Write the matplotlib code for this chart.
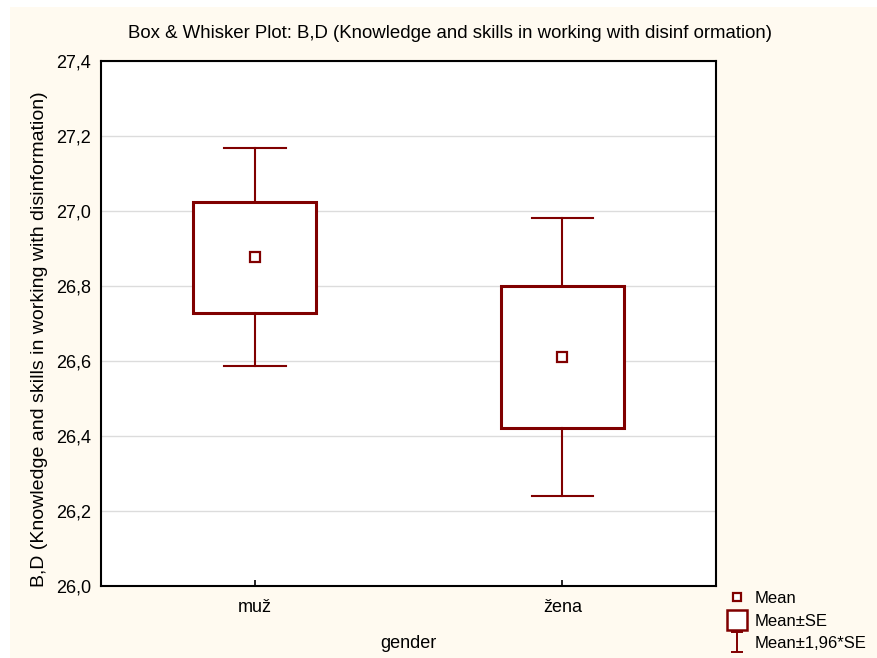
import matplotlib.pyplot as plt
import numpy as np
from matplotlib.lines import Line2D
from matplotlib.path import Path
from matplotlib.patches import Rectangle

plt.rcParams['font.family'] = ['Liberation Sans', 'DejaVu Sans']

# valores
grupos = ['muž', 'žena']
media = [26.877, 26.611]
erro_padrao = [0.148, 0.189]
fator_ic = 1.96

cor = '#800000'
fundo = '#fffaf0'

fig = plt.figure(figsize=(8.77, 6.58), dpi=100)
fig.patch.set_facecolor('white')
fig.patches.append(Rectangle((10 / 877, 0), 1, 1 - 7 / 658, transform=fig.transFigure,
                             facecolor=fundo, edgecolor='none', zorder=-10))

ax = fig.add_axes([101 / 877, 1 - 586 / 658, 615 / 877, 525 / 658])
ax.set_facecolor('white')

x = np.arange(1, len(grupos) + 1)
largura_caixa = 0.4
largura_barra = 0.2

for xi, m, se in zip(x, media, erro_padrao):
    baixo, cima = m - se, m + se
    w_baixo, w_cima = m - fator_ic * se, m + fator_ic * se
    ax.add_patch(Rectangle((xi - largura_caixa / 2, baixo), largura_caixa, cima - baixo,
                           facecolor='white', edgecolor=cor, linewidth=2.2, zorder=3))
    ax.plot([xi, xi], [cima, w_cima], color=cor, lw=1.5, zorder=3)
    ax.plot([xi, xi], [w_baixo, baixo], color=cor, lw=1.5, zorder=3)
    ax.plot([xi - largura_barra / 2, xi + largura_barra / 2], [w_cima, w_cima], color=cor, lw=1.5, zorder=3)
    ax.plot([xi - largura_barra / 2, xi + largura_barra / 2], [w_baixo, w_baixo], color=cor, lw=1.5, zorder=3)
    ax.plot(xi, m, marker='s', ms=6.5, mfc='white', mec=cor, mew=1.6, zorder=4)

ax.set_xlim(0.5, 2.5)
ax.set_ylim(26.0, 27.4)
ax.set_xticks(x)
ax.set_xticklabels(grupos, fontsize=13)
yt = np.arange(26.0, 27.41, 0.2)
ax.set_yticks(yt)
ax.set_yticklabels([f'{v:.1f}'.replace('.', ',') for v in yt], fontsize=13)
ax.tick_params(axis='both', direction='in', length=4, width=1.2, pad=9, colors='black')
ax.tick_params(axis='y', length=0, pad=7)
ax.yaxis.grid(True, color='#dcdcdc', lw=1)
ax.set_axisbelow(True)
for s in ax.spines.values():
    s.set_linewidth(1.5)
    s.set_color('black')

fig.text(450 / 877, 1 - 34 / 658,
         'Box & Whisker Plot: B,D (Knowledge and skills in working with disinf ormation)',
         fontsize=13.4, ha='center', va='center')
ax.set_xlabel('gender', fontsize=13, labelpad=14)
ax.set_ylabel('B,D (Knowledge and skills in working with disinformation)', fontsize=14)
ax.yaxis.set_label_coords(-0.086, 0.47)

# legenda
caminho_i = Path([(-0.3, 0.5), (0.3, 0.5), (0, 0.5), (0, -0.5), (-0.3, -0.5), (0.3, -0.5)],
                 [Path.MOVETO, Path.LINETO, Path.MOVETO, Path.LINETO, Path.MOVETO, Path.LINETO])
itens = [
    Line2D([], [], ls='none', marker='s', ms=6, mfc='white', mec=cor, mew=1.6),
    Line2D([], [], ls='none', marker='s', ms=14, mfc='white', mec=cor, mew=1.8),
    Line2D([], [], ls='none', marker=caminho_i, ms=15, mfc='none', mec=cor, mew=1.4),
]
fig.legend(itens, ['Mean', 'Mean±SE', 'Mean±1,96*SE'], loc='upper left',
           bbox_to_anchor=(727 / 877, 1 - 591 / 658), frameon=False, fontsize=12,
           handlelength=1.2, handletextpad=0.45, labelspacing=0.45, borderpad=0,
           borderaxespad=0)

fig.savefig('out.png', dpi=100, facecolor=fig.get_facecolor())
